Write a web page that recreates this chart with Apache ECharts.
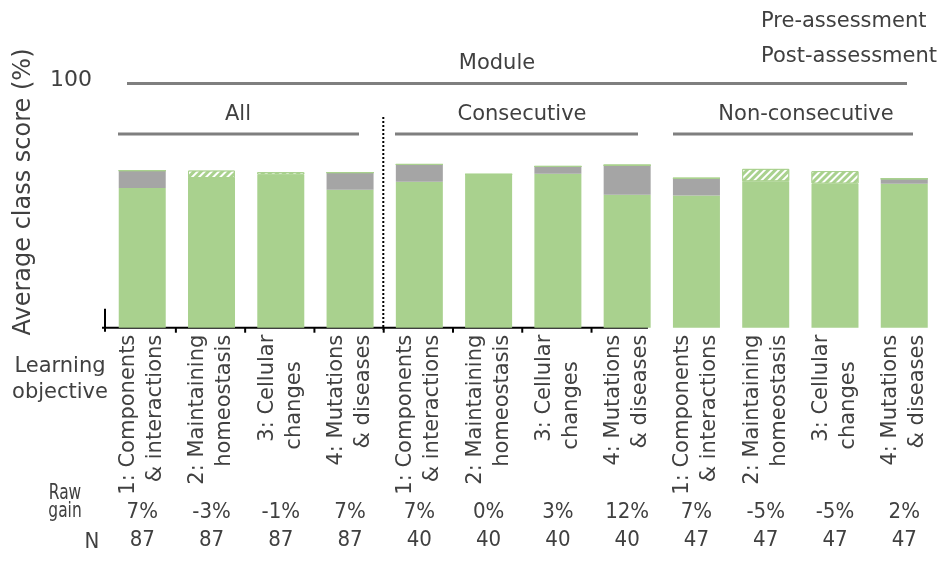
<!DOCTYPE html>
<html>
<head>
<meta charset="utf-8">
<script src="https://cdn.jsdelivr.net/npm/echarts@6/dist/echarts.min.js"></script>
<style>
  html, body { margin: 0; padding: 0; background: #ffffff; }
  #chart { width: 942px; height: 573px; }
</style>
</head>
<body>
<div id="chart"></div>
<script>
// Learning objectives, repeated for each module grouping
const objectives = [
  '1: Components\n& interactions', '2: Maintaining\nhomeostasis', '3: Cellular\nchanges    ', '4: Mutations\n& diseases',
  '1: Components\n& interactions', '2: Maintaining\nhomeostasis', '3: Cellular\nchanges    ', '4: Mutations\n& diseases',
  '1: Components\n& interactions', '2: Maintaining\nhomeostasis', '3: Cellular\nchanges    ', '4: Mutations\n& diseases'
];
// Average class score before instruction (%)
const preScores = [56.6, 63.6, 63.0, 55.8, 59.1, 62.1, 62.3, 53.8, 53.5, 64.3, 63.4, 58.3];
// Raw gain from pre- to post-assessment (percentage points)
const rawGains = [7, -3, -1, 7, 7, 0, 3, 12, 7, -5, -5, 2];
// Number of students
const sampleSizes = [87, 87, 87, 87, 40, 40, 40, 40, 47, 47, 47, 47];
const moduleGroups = ['All', 'Consecutive', 'Non-consecutive'];
const legendLabels = ['Pre-assessment', 'Post-assessment'];
const yTicks = [100];

const FONT = '"DejaVu Sans", Verdana, sans-serif';
const NARROW = '"DejaVu Sans Condensed", "DejaVu Sans", sans-serif';
const INK = '#404040';
const GREEN = '#A9D18E';
const GREY = '#A5A5A5';
const RULE = '#7F7F7F';

const postScores = preScores.map((p, i) => p + rawGains[i]);
const lowerScore = preScores.map((p, i) => Math.min(p, postScores[i]));
const gainPart = rawGains.map(g => Math.max(g, 0));
const lossPart = rawGains.map(g => Math.max(-g, 0));

const chart = echarts.init(document.getElementById('chart'), null, { renderer: 'canvas' });

const rowAxis = (labels, offset) => ({
  type: 'category',
  data: labels,
  position: 'bottom',
  offset: offset,
  axisLine: { show: false },
  axisTick: { show: false },
  axisLabel: { interval: 0, margin: 8, fontSize: 22, color: INK, fontFamily: NARROW }
});

chart.setOption({
  animation: false,
  grid: { left: 107.6, right: 3.1, top: 80.7, bottom: 245.3 },
  xAxis: [
    {
      type: 'category',
      data: objectives,
      axisLine: { show: false },
      axisTick: { show: false },
      axisLabel: {
        interval: 0, rotate: 90, margin: 7,
        fontSize: 21, lineHeight: 27, color: INK, fontFamily: FONT
      }
    },
    rowAxis(rawGains.map(g => g + '%'), 166),
    rowAxis(sampleSizes.map(String), 194)
  ],
  yAxis: {
    type: 'value',
    min: 0, max: 100, interval: 100,
    axisLine: { show: false },
    axisTick: { show: false },
    splitLine: { show: false },
    axisLabel: {
      margin: 15.6, fontSize: 22, color: INK, fontFamily: FONT,
      formatter: v => (yTicks.indexOf(v) >= 0 ? String(v) : '')
    }
  },
  series: [
    {
      name: 'Shared score', type: 'bar', stack: 'score', barWidth: 47,
      data: lowerScore,
      itemStyle: { color: GREEN }
    },
    {
      name: 'Gain', type: 'bar', stack: 'score', barWidth: 47,
      data: gainPart,
      itemStyle: { color: GREY }
    },
    {
      name: 'Loss', type: 'bar', stack: 'score', barWidth: 47,
      data: lossPart,
      itemStyle: {
        color: GREEN, borderColor: GREEN, borderWidth: 1,
        decal: {
          symbol: 'rect', symbolSize: 1, color: '#ffffff',
          dashArrayX: [1, 0], dashArrayY: [2, 3], rotation: -Math.PI / 4
        }
      }
    }
  ]
});

// Axis stubs, group brackets and row captions
function decorate() {
  const cx = i => chart.convertToPixel({ xAxisIndex: 0 }, i);
  const yp = v => chart.convertToPixel({ yAxisIndex: 0 }, v);
  const band = cx(1) - cx(0);
  const base = yp(0);
  const gridLeft = cx(0) - band / 2;
  const sepX = (cx(3) + cx(4)) / 2;

  const txt = (text, x, y, opts) => Object.assign({
    type: 'text', x: x, y: y,
    style: Object.assign({
      text: text, fill: INK, font: '21px ' + FONT,
      align: 'center', verticalAlign: 'middle'
    }, opts || {})
  });
  const rule = (x1, y1, x2, y2) => ({
    type: 'line', shape: { x1, y1, x2, y2 },
    style: { stroke: RULE, lineWidth: 3 }
  });
  const black = (x1, y1, x2, y2, dash) => ({
    type: 'line', shape: { x1, y1, x2, y2 },
    style: { stroke: '#000000', lineWidth: 2, lineDash: dash || null }
  });

  // boundary ticks between the first eight categories
  const ticks = [];
  for (let i = 1; i <= 7; i++) {
    const bx = (cx(i - 1) + cx(i)) / 2 - 1;
    ticks.push(black(bx, base, bx, base + 5));
  }

  chart.setOption({
    graphic: [
      // x axis baseline
      black(gridLeft - 5.6, base, cx(7) + 0.3 * band, base),
      // short y axis stub
      black(gridLeft - 2.6, base - 19, gridLeft - 2.6, base + 4),
      // dotted separator between "All" and the module subsets
      black(sepX - 1.4, 117, sepX - 1.4, base + 2, [2, 2]),
      ...ticks,
      // group brackets
      rule(127, 83.5, 907, 83.5),
      rule(118, 134, 359, 134),
      rule(395, 134, 638, 134),
      rule(673, 134, 913, 134),
      txt('Module', 497, 64),
      txt(moduleGroups[0], 238, 115),
      txt(moduleGroups[1], 522, 115),
      txt(moduleGroups[2], 806, 115),
      // legend captions
      txt(legendLabels[0], 761, 22, { align: 'left' }),
      txt(legendLabels[1], 761, 57, { align: 'left' }),
      // y axis title
      { type: 'text', x: 24, y: 192, rotation: Math.PI / 2,
        style: { text: 'Average class score (%)', fill: INK, font: '24px ' + FONT,
                 align: 'center', verticalAlign: 'middle' } },
      // row captions
      txt('Learning\nobjective', 60, 380, { lineHeight: 26 }),
      { type: 'text', x: 65, y: 502, scaleX: 0.78,
        style: { text: 'Raw\ngain', fill: INK, font: '22px ' + NARROW, lineHeight: 18,
                 align: 'center', verticalAlign: 'middle' } },
      txt('N', 92, 542, { font: '22px ' + NARROW })
    ]
  });
}
decorate();
</script>
</body>
</html>
